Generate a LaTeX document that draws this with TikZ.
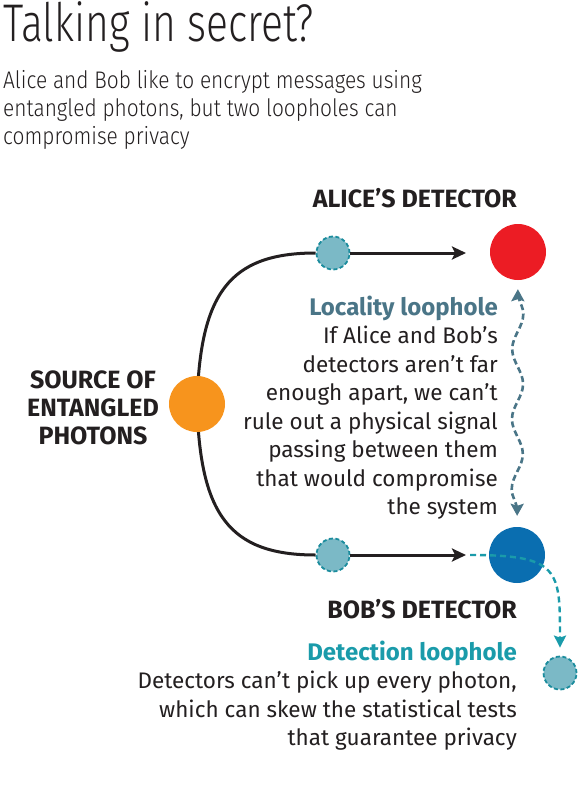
\documentclass[tikz,border=0pt]{standalone}
\usepackage{fontspec}
\setmainfont{Fira Sans}
\newfontfamily\titlefont{Fira Sans Light}[FakeStretch=0.77]
\newfontfamily\introfont{Fira Sans Light}[FakeStretch=0.87]
\usetikzlibrary{arrows.meta,backgrounds,decorations.pathmorphing}
\definecolor{ink}{HTML}{231F20}
\definecolor{aliceF}{HTML}{EC1C24}
\definecolor{bobF}{HTML}{0A6EB0}
\definecolor{srcF}{HTML}{F7941D}
\definecolor{photF}{HTML}{7BB9C6}
\definecolor{photE}{HTML}{1B8C9D}
\definecolor{locC}{HTML}{4A7587}
\definecolor{detC}{HTML}{1A9BAA}
\tikzset{
  det/.style={circle, minimum size=56pt, inner sep=0pt},
  photon/.style={circle, draw=photE, fill=photF, dash pattern=on 4pt off 2.5pt,
                 line width=1.8pt, minimum size=33pt, inner sep=0pt},
  wire/.style={line width=3pt, draw=ink},
  beam/.style={-{Stealth[length=14pt,width=13pt,inset=3pt]}, line width=3pt, draw=ink},
  wave/.style={{Stealth[length=12pt,width=13pt,inset=2pt]}-{Stealth[length=12pt,width=13pt,inset=2pt]},
               draw=locC, line width=2.6pt, dash pattern=on 6pt off 3.5pt,
               decorate, decoration={snake, amplitude=5.5pt, segment length=70pt,
               pre length=12pt, post length=12pt}},
  stray/.style={-{Stealth[length=12pt,width=12pt,inset=2pt]}, draw=detC,
                line width=2.4pt, dash pattern=on 6pt off 4pt},
  caption/.style={font=\bfseries\fontsize{25}{28}\selectfont, text=ink, inner sep=0pt},
  loophead/.style={font=\bfseries\fontsize{24}{28}\selectfont, inner sep=0pt},
  body/.style={font=\fontsize{22.5}{28.5}\selectfont, text=ink, align=right, inner sep=0pt},
}
\begin{document}
\begin{tikzpicture}[x=1pt,y=-1pt]
  \useasboundingbox (0,0) rectangle (579,800);

  % headline and intro
  \node[font=\titlefont\fontsize{53}{60}\selectfont, text=ink, inner sep=0pt, anchor=base west]
    (title) at (3,42) {Talking in secret?};
  \node[font=\introfont\fontsize{24}{28}\selectfont, text=ink, inner sep=0pt, align=left,
        anchor=north west] (intro) at (3,70)
    {Alice and Bob like to encrypt messages using\\
     entangled photons, but two loopholes can\\
     compromise privacy};

  % detectors and photons
  \node[det, fill=srcF] (source) at (197,404) {};
  \node[det, fill=aliceF] (alice) at (518,252) {};
  \node[det, fill=bobF] (bob) at (517,555) {};
  \node[photon] (photA) at (333,253) {};
  \node[photon] (photB) at (333,555) {};
  \node[photon] (lost) at (560,673) {};
  \coordinate (hitA) at (466,253);
  \coordinate (hitB) at (466,555);
  \coordinate (miss) at (470,555);

  \begin{scope}[on background layer]
    \draw[wire] (photA.west) .. controls (228,253) and (200,295) .. (source.center)
                              .. controls (200,513) and (228,555) .. (photB.west);
  \end{scope}
  \draw[beam] (photA) -- (hitA);
  \draw[beam] (photB) -- (hitB);

  % locality loophole
  \draw[wave, shorten <=9pt, shorten >=11pt] (alice) -- (bob);
  \node[loophead, text=locC, anchor=base east] (lochead) at (498,315) {Locality loophole};
  \node[body, anchor=north east] (locbody) at (498,326)
    {If Alice and Bob's\\ detectors aren't far\\ enough apart, we can't\\
     rule out a physical signal\\ passing between them\\ that would compromise\\ the system};

  % detection loophole
  \draw[stray, shorten >=8pt] (miss) .. controls (560,555) and (560,570) .. (lost.north);
  \node[loophead, text=detC, anchor=base east] (dethead) at (517,660) {Detection loophole};
  \node[body, anchor=north east] (detbody) at (517,671)
    {Detectors can't pick up every photon,\\ which can skew the statistical tests\\
     that guarantee privacy};

  % labels
  \node[caption, anchor=base east] (alicecap) at (517,207) {ALICE'S DETECTOR};
  \node[caption, anchor=base east] (bobcap) at (517,618) {BOB'S DETECTOR};
  \node[caption, align=center, anchor=north] (srccap) at (93,371)
    {SOURCE OF\\ ENTANGLED\\ PHOTONS};
\end{tikzpicture}
\end{document}
